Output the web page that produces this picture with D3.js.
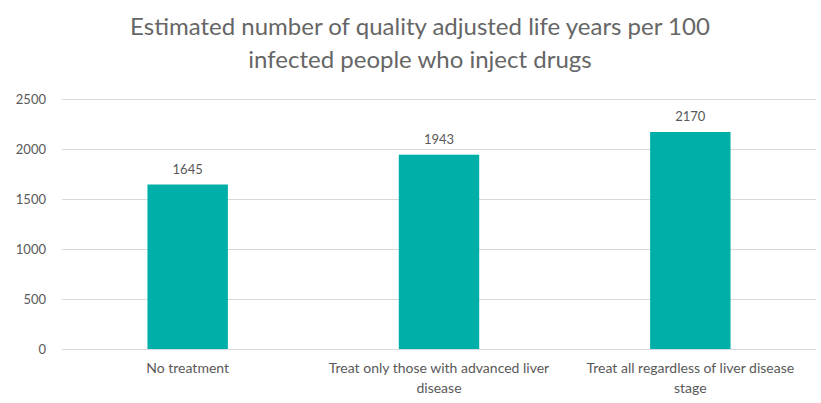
<!DOCTYPE html>
<html>
<head>
<meta charset="utf-8">
<script src="https://cdn.jsdelivr.net/npm/d3@7"></script>
<style>
  body { margin: 0; background: #fff; }
  text { font-family: Lato, "Open Sans", sans-serif; fill: #595959; }
</style>
</head>
<body>
<div class="chart"></div>
<script>
(() => {
  const categories = [
    "No treatment",
    "Treat only those with advanced liver disease",
    "Treat all regardless of liver disease stage",
  ];
  const values = [1645, 1943, 2170];
  const yTicks = [0, 500, 1000, 1500, 2000, 2500];
  const titleLines = [
    "Estimated number of quality adjusted life years per 100",
    "infected people who inject drugs",
  ];

  const width = 821;
  const height = 403;
  const margin = { top: 99, right: 5, bottom: 54, left: 62 };

  const svg = d3
    .select(".chart")
    .append("svg")
    .attr("width", width)
    .attr("height", height);

  svg
    .append("g")
    .selectAll("text")
    .data(titleLines)
    .enter()
    .append("text")
    .attr("x", 420)
    .attr("y", (d, i) => 35 + i * 33)
    .attr("text-anchor", "middle")
    .style("font-size", "24px")
    .style("fill", "#666")
    .text((d) => d);

  const x = d3
    .scaleBand()
    .domain(categories)
    .range([margin.left, width - margin.right])
    .paddingInner(0.68)
    .paddingOuter(0.34);

  const y = d3
    .scaleLinear()
    .domain([0, 2500])
    .range([height - margin.bottom, margin.top]);

  // gridlines
  svg
    .append("g")
    .selectAll("line")
    .data(yTicks)
    .enter()
    .append("line")
    .attr("x1", margin.left)
    .attr("x2", width - margin.right)
    .attr("y1", (d) => y(d) + 0.5)
    .attr("y2", (d) => y(d) + 0.5)
    .style("stroke", "#d9d9d9")
    .style("stroke-width", 1);

  // y axis labels
  const yAxis = d3
    .axisLeft(y)
    .tickValues(yTicks)
    .tickFormat(d3.format("d"))
    .tickSize(0)
    .tickPadding(16);
  const yg = svg
    .append("g")
    .attr("transform", `translate(${margin.left},0)`)
    .call(yAxis);
  yg.select(".domain").remove();
  yg.selectAll("text")
    .style("font-size", "13px")
    .style("fill", "#595959")
    .style("font-family", "Lato, 'Open Sans', sans-serif");

  // bars
  svg
    .append("g")
    .selectAll("rect")
    .data(values)
    .enter()
    .append("rect")
    .attr("x", (d, i) => x(categories[i]))
    .attr("y", (d) => y(d))
    .attr("width", x.bandwidth())
    .attr("height", (d) => y(0) - y(d))
    .style("fill", "#00b0a8");

  // value labels
  svg
    .append("g")
    .selectAll("text")
    .data(values)
    .enter()
    .append("text")
    .attr("x", (d, i) => x(categories[i]) + x.bandwidth() / 2)
    .attr("y", (d) => y(d) - 11)
    .attr("text-anchor", "middle")
    .style("font-size", "13px")
    .text((d) => d);

  // x axis line
  svg
    .append("line")
    .attr("x1", margin.left)
    .attr("x2", width - margin.right)
    .attr("y1", y(0) + 0.5)
    .attr("y2", y(0) + 0.5)
    .style("stroke", "#d9d9d9");

  // category labels, wrapped
  const xAxis = d3.axisBottom(x).tickSize(0).tickPadding(14);
  const xg = svg
    .append("g")
    .attr("transform", `translate(0,${y(0)})`)
    .call(xAxis);
  xg.select(".domain").remove();
  xg.selectAll("text")
    .style("font-size", "14px")
    .style("fill", "#595959")
    .style("font-family", "Lato, 'Open Sans', sans-serif")
    .call(wrap, 232);

  function wrap(texts, maxWidth) {
    texts.each(function () {
      const text = d3.select(this);
      const words = text.text().split(/\s+/);
      const yy = text.attr("y");
      const dy = parseFloat(text.attr("dy")) || 0;
      let line = [];
      let lineNumber = 0;
      let tspan = text.text(null).append("tspan").attr("x", 0).attr("y", yy).attr("dy", dy + "em");
      words.forEach((w) => {
        line.push(w);
        tspan.text(line.join(" "));
        if (tspan.node().getComputedTextLength() > maxWidth && line.length > 1) {
          line.pop();
          tspan.text(line.join(" "));
          line = [w];
          tspan = text
            .append("tspan")
            .attr("x", 0)
            .attr("y", yy)
            .attr("dy", ++lineNumber * 1.45 + dy + "em")
            .text(w);
        }
      });
    });
  }
})();
</script>
</body>
</html>
